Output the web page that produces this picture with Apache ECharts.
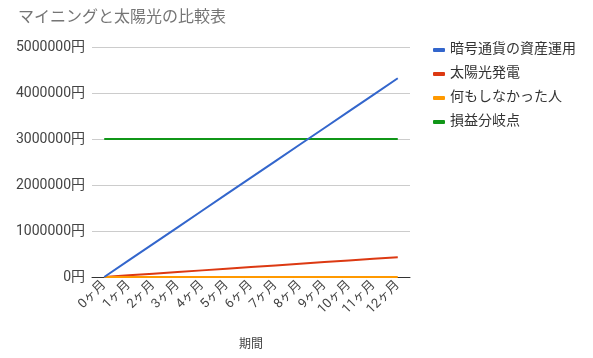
<!DOCTYPE html>
<html><head><meta charset="utf-8">
<script src="https://cdn.jsdelivr.net/npm/echarts@6/dist/echarts.min.js"></script>
<style>html,body{margin:0;padding:0;background:#fff}#c{width:593px;height:358px}</style>
</head><body><div id="c"></div>
<script>
var categories = ['0ヶ月','1ヶ月','2ヶ月','3ヶ月','4ヶ月','5ヶ月','6ヶ月','7ヶ月','8ヶ月','9ヶ月','10ヶ月','11ヶ月','12ヶ月'];
var cryptoValues = [0,360000,720000,1080000,1440000,1800000,2160000,2520000,2880000,3240000,3600000,3960000,4320000];
var solarValues = [0,36000,72000,108000,144000,180000,216000,252000,288000,324000,360000,396000,432000];
var nothingValues = [0,0,0,0,0,0,0,0,0,0,0,0,0];
var breakevenValues = [3000000,3000000,3000000,3000000,3000000,3000000,3000000,3000000,3000000,3000000,3000000,3000000,3000000];
var seriesNames = ['暗号通貨の資産運用','太陽光発電','何もしなかった人','損益分岐点'];
var colors = ['#3366cc','#dc3912','#ff9900','#109618'];
var font = 'Roboto, "Noto Sans CJK JP", sans-serif';
var chart = echarts.init(document.getElementById('c'));
var data = [cryptoValues, solarValues, nothingValues, breakevenValues];
chart.setOption({
  animation:false,
  textStyle:{fontFamily:font},
  title:{text:'マイニングと太陽光の比較表',left:13,top:5,textStyle:{fontSize:16,fontWeight:'normal',color:'#757575',fontFamily:font}},
  legend:{orient:'vertical',left:428,top:38,itemGap:10,itemWidth:12,itemHeight:4,icon:'roundRect',
    textStyle:{fontSize:14,color:'#333',fontFamily:font},data:seriesNames},
  grid:{left:92,right:183,top:47,bottom:81},
  xAxis:{type:'category',data:categories,boundaryGap:true,name:'期間',nameLocation:'middle',nameGap:62,
    nameTextStyle:{fontSize:12,color:'#444'},
    axisLine:{lineStyle:{color:'#333'}},axisTick:{show:false},
    axisLabel:{rotate:45,fontSize:13,color:'#444',margin:6,interval:0}},
  yAxis:{type:'value',min:0,max:5000000,interval:1000000,
    axisLine:{show:false},axisTick:{show:false},
    splitLine:{lineStyle:{color:'#cccccc'}},
    axisLabel:{formatter:function(v){return String(v)+'円';},fontSize:14,color:'#444',margin:7}},
  series:data.map(function(d,i){return {name:seriesNames[i],type:'line',data:d,symbol:'none',
    lineStyle:{width:2,color:colors[i]},itemStyle:{color:colors[i]},z:[5,3,4,2][i]};})
});
</script></body></html>
